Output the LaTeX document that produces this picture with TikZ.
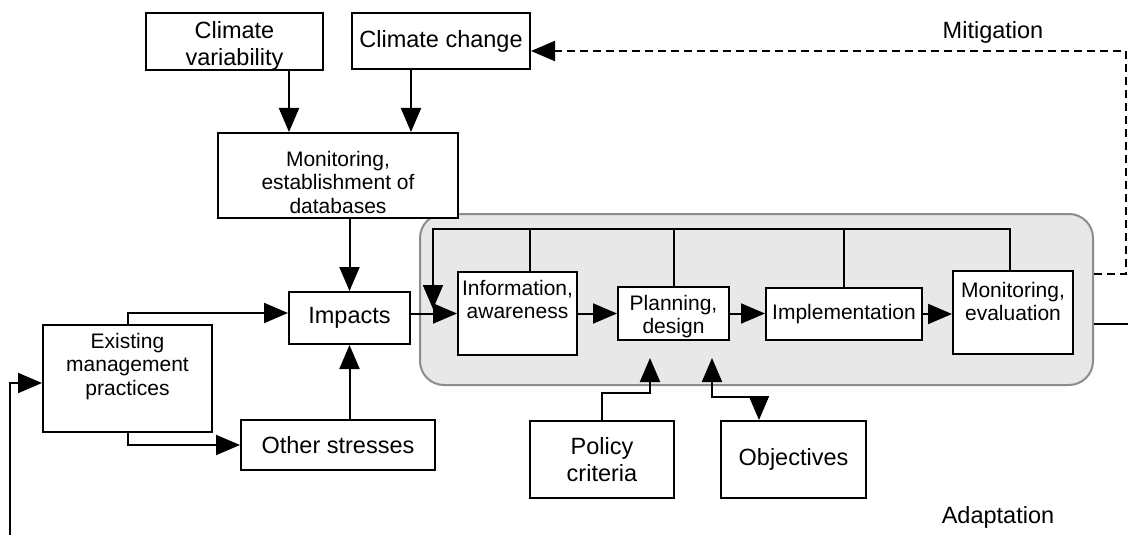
\documentclass[tikz,border=0pt]{standalone}
\usepackage{fontspec}
\setmainfont{Liberation Sans}
\usepackage{xcolor}
\usetikzlibrary{arrows.meta}
\definecolor{panelgray}{HTML}{E8E8E8}
\definecolor{panelline}{HTML}{8C8C8C}
\newcommand{\toptxt}[4]{\parbox[c][#2pt][t]{#1pt}{\centering\vspace*{#3pt}#4}}

\begin{document}
\begin{tikzpicture}[x=1pt,y=-1pt,
		box/.style={draw,line width=2pt,fill=white,inner sep=0pt,align=center},
		big/.style={font=\fontsize{23.5}{27}\selectfont},
		small/.style={font=\fontsize{21}{23.5}\selectfont},
		tip/.tip={Triangle[length=24pt,width=20pt]},
		arr/.style={-tip,line width=2pt},
		link/.style={line width=2pt},
		panel/.style={draw=panelline,fill=panelgray,line width=2pt,rounded corners=24pt,inner sep=0pt,minimum width=673pt,minimum height=171pt}]
		\useasboundingbox (0,0) rectangle (1128,535);
		
		\node[panel] (adapt) at (756.5,299.5) {};
		
		\node[box,big,minimum width=177pt,minimum height=57pt] (cv) at (234.5,41.5) {\toptxt{177}{57}{8}{Climate\\variability}};
		\node[box,big,minimum width=178pt,minimum height=56pt] (cc) at (441,41) {Climate change};
		\node[box,small,minimum width=240pt,minimum height=85pt] (mdb) at (338,175.5) {\toptxt{240}{85}{18}{Monitoring,\\establishment of\\databases}};
		\node[box,big,minimum width=121pt,minimum height=52pt] (impacts) at (349.5,318) {Impacts};
		\node[box,small,minimum width=169pt,minimum height=107pt] (emp) at (127.5,378.5) {\toptxt{169}{107}{8}{Existing\\management\\practices}};
		\node[box,big,minimum width=194pt,minimum height=50pt] (os) at (338,445) {Other stresses};
		
		\node[box,small,minimum width=119pt,minimum height=83pt] (info) at (517.5,313.5) {\toptxt{119}{83}{8}{Information,\\awareness}};
		\node[box,small,minimum width=111pt,minimum height=53pt] (plan) at (673.5,313.5) {\toptxt{111}{53}{8}{Planning,\\design}};
		\node[box,small,minimum width=156pt,minimum height=52pt] (impl) at (844,314) {Implementation};
		\node[box,small,minimum width=120pt,minimum height=83pt] (mon) at (1013,312.5) {\toptxt{120}{83}{11}{Monitoring,\\evaluation}};
		
		\node[box,big,minimum width=144pt,minimum height=77pt] (pol) at (602,459.5) {Policy\\criteria};
		\node[box,big,minimum width=145pt,minimum height=77pt] (obj) at (793.5,459.5) {Objectives};
		
		\node[big] (mitlbl) at (993,32) {Mitigation};
		\node[big] (adplbl) at (998,517) {Adaptation};
		
		\coordinate (fbtl) at (433,229);
		\coordinate (fbtip) at (433,309);
		\coordinate (infotop) at ([xshift=12.5pt]info.north);
		\coordinate (polin) at (650,358);
		\coordinate (objin) at (712,358);
		\coordinate (mitr) at (1126,51);
		\coordinate (adaptout) at (1128,324);
		\coordinate (adaptin) at (10,535);
		
		\draw[arr] ([xshift=54.5pt]cv.south) -- ([xshift=-49pt]mdb.north);
		\draw[arr] ([xshift=-30pt]cc.south) -- ([xshift=73pt]mdb.north);
		\draw[arr] (mdb.south -| impacts.north) -- (impacts.north);
		\draw[arr] (impacts.south |- os.north) -- (impacts.south);
		\draw[arr] (emp.north) |- ([yshift=5pt]impacts.west);
		\draw[arr] (emp.south) |- (os.west);
		\draw[arr] (adaptin) |- ([yshift=-4.5pt]emp.west);
		
		\draw[arr] (impacts.east |- info.west) -- (info.west);
		\draw[arr] (info.east) -- (plan.west);
		\draw[arr] (plan.east) -- (impl.west |- plan.east);
		\draw[arr] (impl.east) -- (mon.west |- impl.east);
		
		\draw[arr] ([xshift=-3pt]mon.north) |- (fbtl) -- (fbtip);
		\draw[link] (infotop) -- (infotop |- fbtl);
		\draw[link] (plan.north) -- (plan.north |- fbtl);
		\draw[link] (impl.north) -- (impl.north |- fbtl);
		
		\draw[arr] (pol.north) -- ++(0,-27) -| (polin);
		\draw[tip-tip,line width=2pt] (objin) -- ++(0,39) -| ([xshift=-34.5pt]obj.north);
		
		\draw[arr,dash pattern=on 8pt off 5pt] ([yshift=25.5pt]adapt.east) -| (mitr) -- ([yshift=-10pt]cc.east);
		\draw[link] ([yshift=-24.5pt]adapt.east) -- (adaptout);
	\end{tikzpicture}
\end{document}
